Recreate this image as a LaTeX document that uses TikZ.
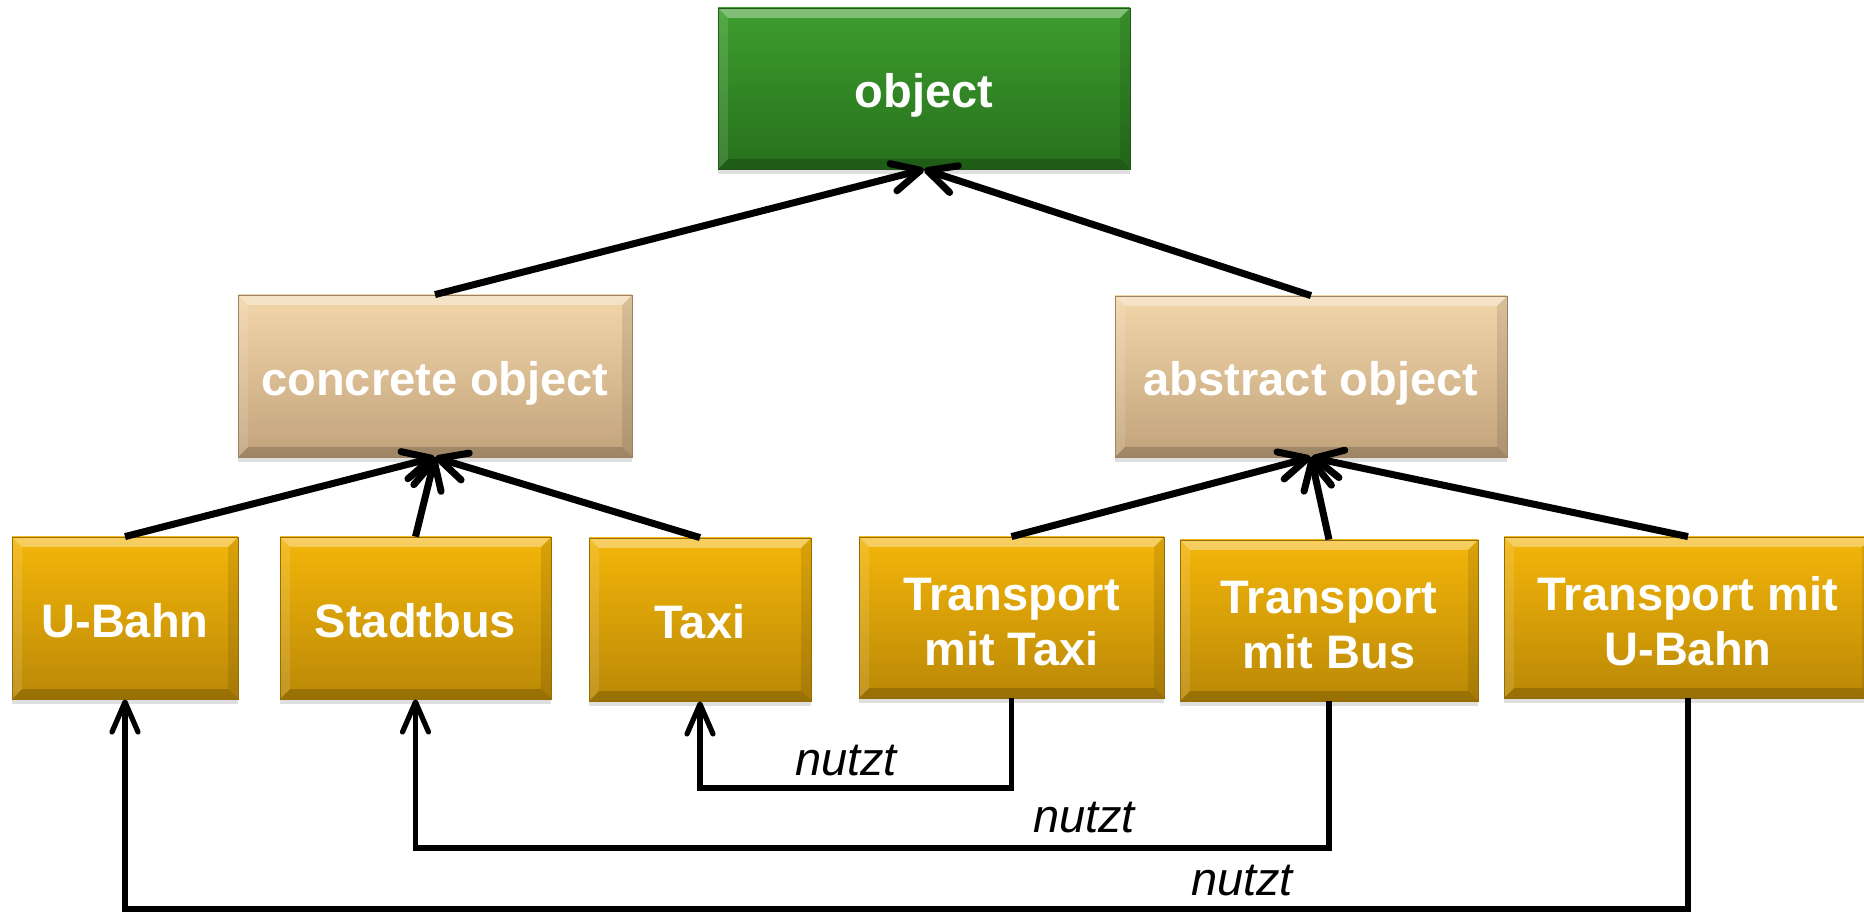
\documentclass[tikz,border=0pt]{standalone}
\usepackage{fontspec}
\setmainfont{Liberation Sans}
\usetikzlibrary{arrows.meta,shadows,calc}
\definecolor{gtop}{RGB}{62,158,46}
\definecolor{gbot}{RGB}{38,112,28}
\definecolor{ttop}{RGB}{242,214,170}
\definecolor{tbot}{RGB}{194,163,124}
\definecolor{otop}{RGB}{244,182,10}
\definecolor{obot}{RGB}{186,136,6}
\newcommand\fstrut{\rule{0pt}{20.4pt}}
\tikzset{
  bevel/.style={path picture={
    \coordinate (bnw) at (path picture bounding box.north west);
    \coordinate (bne) at (path picture bounding box.north east);
    \coordinate (bsw) at (path picture bounding box.south west);
    \coordinate (bse) at (path picture bounding box.south east);
    \fill[white,opacity=.35] (bnw) -- (bne) -- ([shift={(-5pt,-5pt)}]bne) -- ([shift={(5pt,-5pt)}]bnw) -- cycle;
    \fill[black,opacity=.18] (bsw) -- (bse) -- ([shift={(-5pt,5pt)}]bse) -- ([shift={(5pt,5pt)}]bsw) -- cycle;
    \fill[white,opacity=.12] (bnw) -- (bsw) -- ([shift={(5pt,5pt)}]bsw) -- ([shift={(5pt,-5pt)}]bnw) -- cycle;
    \fill[black,opacity=.10] (bne) -- (bse) -- ([shift={(-5pt,5pt)}]bse) -- ([shift={(-5pt,-5pt)}]bne) -- cycle;
  }},
  box/.style={rectangle, inner sep=0pt, bevel, text=white,
    font=\fontsize{23.5}{28.5}\selectfont\bfseries,
    drop shadow={opacity=.25, shadow xshift=0pt, shadow yshift=-2.5pt}},
  oneline/.style={text height=23.5pt, text depth=4.2pt},
  twoline/.style={align=center, font=\fontsize{23.5}{27.6}\selectfont\bfseries},
  greenbox/.style={box, top color=gtop, bottom color=gbot, draw=gbot!80!black, line width=.4pt},
  tanbox/.style={box, top color=ttop, bottom color=tbot, draw=tbot!80!black, line width=.4pt},
  goldbox/.style={box, top color=otop, bottom color=obot, draw=obot!80!black, line width=.4pt},
  bigarrow/.style={line width=3.5pt, -{Straight Barb[length=14pt,width=14pt,round]}},
  smallarrow/.style={line width=2.6pt, -{Straight Barb[length=15pt,width=13pt,round]}},
  lab/.style={font=\fontsize{23.5}{28}\selectfont\itshape, inner sep=0pt},
}
\begin{document}
\begin{tikzpicture}[x=0.5pt,y=-0.5pt]
\useasboundingbox (0,0) rectangle (1864,914);

\node[greenbox, oneline, minimum width=206pt, minimum height=80.5pt] (obj) at (924,88.5) {object};
\node[tanbox, oneline, minimum width=197pt, minimum height=81pt] (conc) at (435,376) {concrete object};
\node[tanbox, oneline, minimum width=196pt, minimum height=80.5pt] (abs) at (1311,376.5) {abstract object};

\node[goldbox, oneline, minimum width=113pt, minimum height=81pt] (ub) at (125,618) {U-Bahn};
\node[goldbox, oneline, minimum width=135.5pt, minimum height=81pt] (sb) at (415.5,618) {Stadtbus};
\node[goldbox, oneline, minimum width=111pt, minimum height=81.5pt] (tx) at (700,619.5) {Taxi};
\node[goldbox, twoline, minimum width=152.5pt, minimum height=80.5pt] (tt) at (1011.5,617.5) {\fstrut Transport\\mit Taxi};
\node[goldbox, twoline, minimum width=149pt, minimum height=80.5pt] (tb) at (1329,620.5) {\fstrut Transport\\mit Bus};
\node[goldbox, twoline, minimum width=184pt, minimum height=80.5pt] (tu) at (1688,617.5) {\fstrut Transport mit\\U-Bahn};

\draw[bigarrow] (conc.north) -- (obj.south);
\draw[bigarrow] (abs.north) -- (obj.south);

\draw[bigarrow] (ub.north) -- (conc.south);
\draw[bigarrow] (sb.north) -- (conc.south);
\draw[bigarrow] (tx.north) -- (conc.south);

\draw[bigarrow] (tt.north) -- (abs.south);
\draw[bigarrow] (tb.north) -- (abs.south);
\draw[bigarrow] (tu.north) -- (abs.south);

\coordinate (y1) at (0,788);
\coordinate (y2) at (0,848);
\coordinate (y3) at (0,909);
\draw[smallarrow] (tt.south) -- (tt.south |- y1) -| (tx.south);
\draw[smallarrow] (tb.south) -- (tb.south |- y2) -| (sb.south);
\draw[smallarrow] (tu.south) -- (tu.south |- y3) -| (ub.south);

\node[lab] (n1) at (846,761) {nutzt};
\node[lab] (n2) at (1084,818) {nutzt};
\node[lab] (n3) at (1242,881) {nutzt};
\end{tikzpicture}
\end{document}
